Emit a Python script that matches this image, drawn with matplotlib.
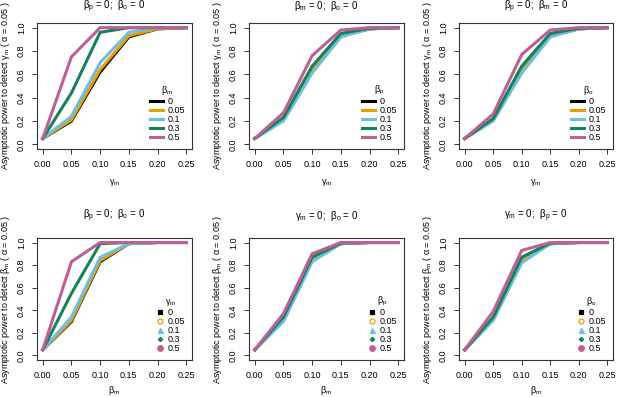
import matplotlib
matplotlib.use("Agg")
import matplotlib.pyplot as plt
from matplotlib.lines import Line2D

plt.rcParams['font.family'] = ['Liberation Sans', 'DejaVu Sans']
plt.rcParams['mathtext.fontset'] = 'custom'
plt.rcParams['mathtext.rm'] = 'Liberation Sans'
plt.rcParams['mathtext.it'] = 'Liberation Sans'
plt.rcParams['mathtext.bf'] = 'Liberation Sans:bold'

# x grid shared by all panels
x_vals = [0.0, 0.05, 0.10, 0.15, 0.20, 0.25]
legend_levels = ["0", "0.05", "0.1", "0.3", "0.5"]
colors = ["#000000", "#E69F00", "#6EBEE3", "#168257", "#BE5F96"]
markers = ["s", "o", "^", "D", "o"]
marker_fill = [True, False, True, True, True]
marker_size = [3.0, 3.6, 3.6, 2.2, 4.0]

# power curves, one list per legend level
p1 = [[0.05, 0.20, 0.62, 0.92, 0.99, 1.0],
      [0.05, 0.21, 0.64, 0.93, 0.99, 1.0],
      [0.05, 0.24, 0.70, 0.96, 1.0, 1.0],
      [0.05, 0.44, 0.96, 1.0, 1.0, 1.0],
      [0.05, 0.75, 1.0, 1.0, 1.0, 1.0]]
p2 = [[0.05, 0.21, 0.63, 0.93, 0.99, 1.0],
      [0.05, 0.21, 0.63, 0.93, 0.99, 1.0],
      [0.05, 0.20, 0.61, 0.92, 0.99, 1.0],
      [0.05, 0.23, 0.67, 0.95, 0.995, 1.0],
      [0.05, 0.27, 0.76, 0.98, 1.0, 1.0]]
p3 = [[0.05, 0.21, 0.63, 0.93, 0.99, 1.0],
      [0.05, 0.21, 0.63, 0.93, 0.99, 1.0],
      [0.05, 0.20, 0.61, 0.92, 0.99, 1.0],
      [0.05, 0.22, 0.67, 0.95, 0.995, 1.0],
      [0.05, 0.26, 0.77, 0.98, 1.0, 1.0]]
p4 = [[0.05, 0.30, 0.83, 0.99, 1.0, 1.0],
      [0.05, 0.31, 0.84, 0.99, 1.0, 1.0],
      [0.05, 0.34, 0.87, 0.99, 1.0, 1.0],
      [0.05, 0.55, 0.99, 1.0, 1.0, 1.0],
      [0.05, 0.83, 1.0, 1.0, 1.0, 1.0]]
p5 = [[0.05, 0.32, 0.85, 0.99, 1.0, 1.0],
      [0.05, 0.32, 0.85, 0.99, 1.0, 1.0],
      [0.05, 0.30, 0.83, 0.99, 1.0, 1.0],
      [0.05, 0.34, 0.87, 0.995, 1.0, 1.0],
      [0.05, 0.37, 0.90, 1.0, 1.0, 1.0]]
p6 = [[0.05, 0.32, 0.85, 0.99, 1.0, 1.0],
      [0.05, 0.32, 0.85, 0.99, 1.0, 1.0],
      [0.05, 0.31, 0.82, 0.99, 1.0, 1.0],
      [0.05, 0.34, 0.87, 0.995, 1.0, 1.0],
      [0.05, 0.39, 0.93, 1.0, 1.0, 1.0]]

titles = [r"$\beta_p$ = 0;  $\beta_o$ = 0", r"$\beta_m$ = 0;  $\beta_o$ = 0",
          r"$\beta_p$ = 0;  $\beta_m$ = 0", r"$\beta_p$ = 0;  $\beta_o$ = 0",
          r"$\gamma_m$ = 0;  $\beta_o$ = 0", r"$\gamma_m$ = 0;  $\beta_p$ = 0"]
leg_titles = [r"$\beta_m$", r"$\beta_p$", r"$\beta_o$",
              r"$\gamma_m$", r"$\beta_p$", r"$\beta_o$"]
xlabels = [r"$\gamma_m$"] * 3 + [r"$\beta_m$"] * 3
ylabels = [r"Asymptotic power to detect $\gamma_m$ ( $\alpha$ = 0.05 )"] * 3 + \
          [r"Asymptotic power to detect $\beta_m$ ( $\alpha$ = 0.05 )"] * 3
panels = [p1, p2, p3, p4, p5, p6]

W, H = 617, 397
fig = plt.figure(figsize=(W / 100, H / 100), dpi=100)

# pixel boxes (left, top, right, bottom)
boxes = [(37, 23, 192, 149), (249, 23, 404, 149), (459, 23, 613, 149),
         (37, 238, 192, 360), (249, 238, 404, 360), (459, 238, 613, 360)]

for i, (l, t, r, b) in enumerate(boxes):
    ax = fig.add_axes([l / W, 1 - b / H, (r - l) / W, (b - t) / H])
    for k, ys in enumerate(panels[i]):
        ax.plot(x_vals, ys, color=colors[k], lw=2.2, solid_joinstyle='miter')
    ax.set_xlim(-0.01, 0.26)
    ax.set_ylim(-0.04, 1.04)
    ax.set_xticks(x_vals)
    ax.set_xticklabels(["0.00", "0.05", "0.10", "0.15", "0.20", "0.25"])
    ax.set_yticks([0, 0.2, 0.4, 0.6, 0.8, 1.0])
    ax.set_yticklabels(["0.0", "0.2", "0.4", "0.6", "0.8", "1.0"], rotation=90, va='center')
    ax.tick_params(labelsize=6.5, length=3.5, width=0.7, direction='out', color='#333333', pad=4.5)
    for sp in ax.spines.values():
        sp.set_linewidth(0.8)
        sp.set_color('#333333')
    ax.set_title(titles[i], fontsize=7, pad=10 if i < 3 else 14)
    ax.set_xlabel(xlabels[i], fontsize=6.5, labelpad=6 if i < 3 else 3)
    ax.set_ylabel(ylabels[i], fontsize=6.5, labelpad=3.5)

    if i < 3:
        handles = [Line2D([], [], color=c, lw=2.2) for c in colors]
        leg = ax.legend(handles, legend_levels, title=leg_titles[i], loc='lower right',
                        bbox_to_anchor=(1.0, 0.0), frameon=False, fontsize=6.5,
                        title_fontsize=6.5, handlelength=1.4, handletextpad=0.5,
                        labelspacing=0.0, borderpad=0.3)
    else:
        handles = [Line2D([], [], ls='none', marker=markers[k], ms=marker_size[k],
                          color=colors[k],
                          markerfacecolor=colors[k] if marker_fill[k] else 'none',
                          markeredgewidth=0.9) for k in range(5)]
        leg = ax.legend(handles, legend_levels, title=leg_titles[i], loc='lower right',
                        bbox_to_anchor=(1.0, 0.0), frameon=False, fontsize=6.5,
                        title_fontsize=6.5, handlelength=0.8, handletextpad=0.4,
                        labelspacing=0.0, borderpad=0.3)
    leg._legend_box.align = "center"

fig.savefig("out.png", dpi=100)
